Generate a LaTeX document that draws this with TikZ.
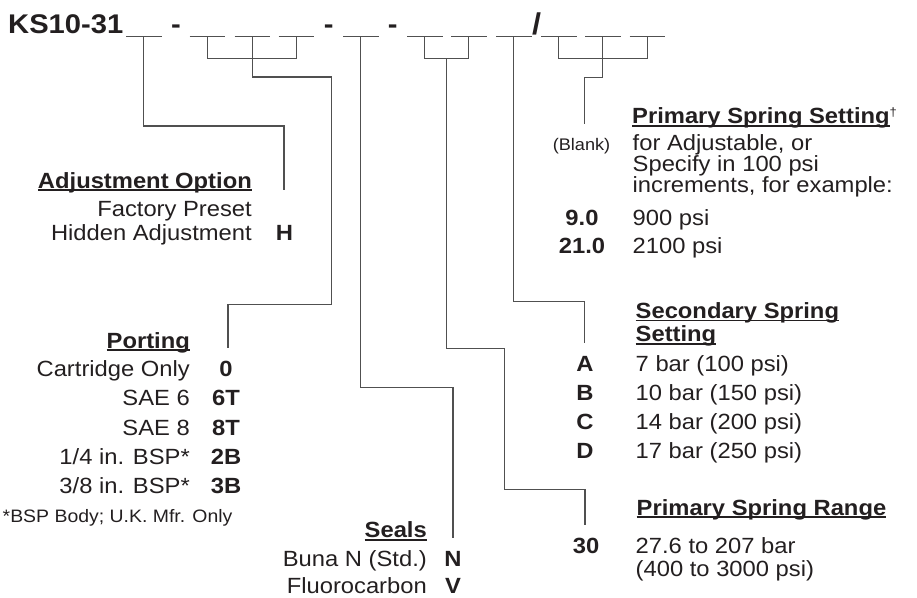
\documentclass[tikz,border=0pt]{standalone}
\usepackage{fontspec}
\setmainfont{Liberation Sans}[FakeStretch=1.08]
\usetikzlibrary{calc}
\definecolor{ink}{HTML}{231F20}
\definecolor{linkgray}{HTML}{505050}
% heading underline that runs at the baseline, through the descenders
\newcommand\hdline[1]{\setbox0\hbox{#1}\rlap{\rule[-3.1pt]{\wd0}{1.7pt}}\box0}
\tikzset{
  txt/.style={inner sep=0pt, text=ink, font=\fontsize{22}{20}\selectfont},
  code/.style={txt, font=\fontsize{22}{20}\selectfont\bfseries},
  head/.style={txt, font=\fontsize{22}{20}\selectfont\bfseries},
  small/.style={txt, font=\fontsize{16.8}{16.8}\selectfont},
  note/.style={txt, font=\fontsize{18}{18}\selectfont},
  title/.style={txt, font=\fontsize{27}{27}\selectfont\bfseries},
  link/.style={draw=linkgray, line width=1.4pt},
  blank/.style={draw=linkgray, line width=1.5pt},
}

\begin{document}
\begin{tikzpicture}[x=1pt,y=-1pt]
  \useasboundingbox (0,0) rectangle (917,597);

  % model code
  \node[title, anchor=base west] (model) at (8,33) {KS10-31};
  \node[title, anchor=base] (dash1) at (176,33) {-};
  \node[title, anchor=base] (dash2) at (328.7,33) {-};
  \node[title, anchor=base] (dash3) at (392.7,33) {-};
  \node[title, anchor=base, font=\fontsize{30}{30}\selectfont\bfseries] (slash) at (536.5,34) {/};
  \foreach \x [count=\i] in {126,189.5,234.5,278.5,343,407,451,496,541,585,629.5}
    \draw[blank] (\x,36.7) -- ++(35.5,0) coordinate[midway] (b\i);

  % Adjustment Option
  \node[head, anchor=base east] (adjHead) at (252,188) {\hdline{Adjustment Option}};
  \node[txt, anchor=base east] (adj1) at (252,216.7) {Factory Preset};
  \node[txt, anchor=base east] (adj2) at (252,240) {Hidden Adjustment};
  \node[code, anchor=base] (adjH) at (284.5,240) {H};

  % Porting
  \node[head, anchor=base east] (portHead) at (190,348) {\hdline{Porting}};
  \foreach \name/\val [count=\i] in {Cartridge Only/0, SAE 6/6T, SAE 8/8T, {1/4 in. BSP*}/2B, {3/8 in. BSP*}/3B} {
    \node[txt, anchor=base east] (port\i) at (190,347.5+29.2*\i) {\name};
    \node[code, anchor=base] (portc\i) at (226,347.5+29.2*\i) {\val};
  }
  \node[note, anchor=base west] (portNote) at (2.5,522) {*BSP Body; U.K. Mfr. Only};

  % Seals
  \node[head, anchor=base east] (sealHead) at (427,537.5) {\hdline{Seals}};
  \node[txt, anchor=base east] (seal1) at (427,566) {Buna N (Std.)};
  \node[code, anchor=base] (sealN) at (453,566) {N};
  \node[txt, anchor=base east] (seal2) at (427,593) {Fluorocarbon};
  \node[code, anchor=base] (sealV) at (453,593) {V};

  % Primary Spring Setting
  \node[head, anchor=base west] (priHead) at (632,123.5)
    {\hdline{Primary Spring Setting}\raisebox{7pt}{\fontsize{12}{12}\selectfont\mdseries †}};
  \node[small, anchor=base] (priBlank) at (581.5,150) {(Blank)};
  \node[txt, anchor=base west] (pri1) at (632.5,150) {for Adjustable, or};
  \node[txt, anchor=base west] (pri2) at (632.5,171) {Specify in 100 psi};
  \node[txt, anchor=base west] (pri3) at (632.5,192) {increments, for example:};
  \node[code, anchor=base] (priA) at (582,225) {9.0};
  \node[txt, anchor=base west] (pri4) at (632.5,225) {900 psi};
  \node[code, anchor=base] (priB) at (582,253.3) {21.0};
  \node[txt, anchor=base west] (pri5) at (632.5,253.3) {2100 psi};

  % Secondary Spring Setting
  \node[head, anchor=base west] (secHead) at (635.5,318.3) {\hdline{Secondary Spring}};
  \node[head, anchor=base west] (secHead2) at (635.5,341.7) {\hdline{Setting}};
  \foreach \val/\name [count=\i] in {A/7 bar (100 psi), B/10 bar (150 psi), C/14 bar (200 psi), D/17 bar (250 psi)} {
    \node[code, anchor=base] (secc\i) at (585,342.8+28.9*\i) {\val};
    \node[txt, anchor=base west] (sec\i) at (635.5,342.8+28.9*\i) {\name};
  }

  % Primary Spring Range
  \node[head, anchor=base west] (rngHead) at (636.5,515) {\hdline{Primary Spring Range}};
  \node[code, anchor=base] (rng30) at (586,553.3) {30};
  \node[txt, anchor=base west] (rng1) at (635.5,553.3) {27.6 to 207 bar};
  \node[txt, anchor=base west] (rng2) at (635.5,576.7) {(400 to 3000 psi)};

  % leader ends
  \coordinate (endAdj) at (284,190);
  \coordinate (endPort) at (228,348);
  \coordinate (endSeal) at (453,538.3);
  \coordinate (endRange) at (585,525);
  \coordinate (endSec) at (584.3,343.3);
  \coordinate (endPri) at (584.3,124.3);
  \coordinate (mid67) at ($(b6)!.5!(b7)+(0,21.6)$);

  % leaders
  \draw[link] (b1) -- ++(0,89.3) -| (endAdj);
  \draw[link] (b2) -- ++(0,21.6) -| (b4);
  \draw[link] (b3) -- ++(0,40.3) -| ++(79.3,227.5) -| (endPort);
  \draw[link] (b5) -- ++(0,350.6) -| (endSeal);
  \draw[link] (b6) -- ++(0,21.6) -| (b7);
  \draw[link] (mid67) -- ++(0,290) -| ++(57.5,141) -| (endRange);
  \draw[link] (b8) -- ++(0,265) -| (endSec);
  \draw[link] (b9) -- ++(0,21.6) -| (b11);
  \draw[link] (b10) -- ++(0,40.6) -| (endPri);
\end{tikzpicture}
\end{document}
